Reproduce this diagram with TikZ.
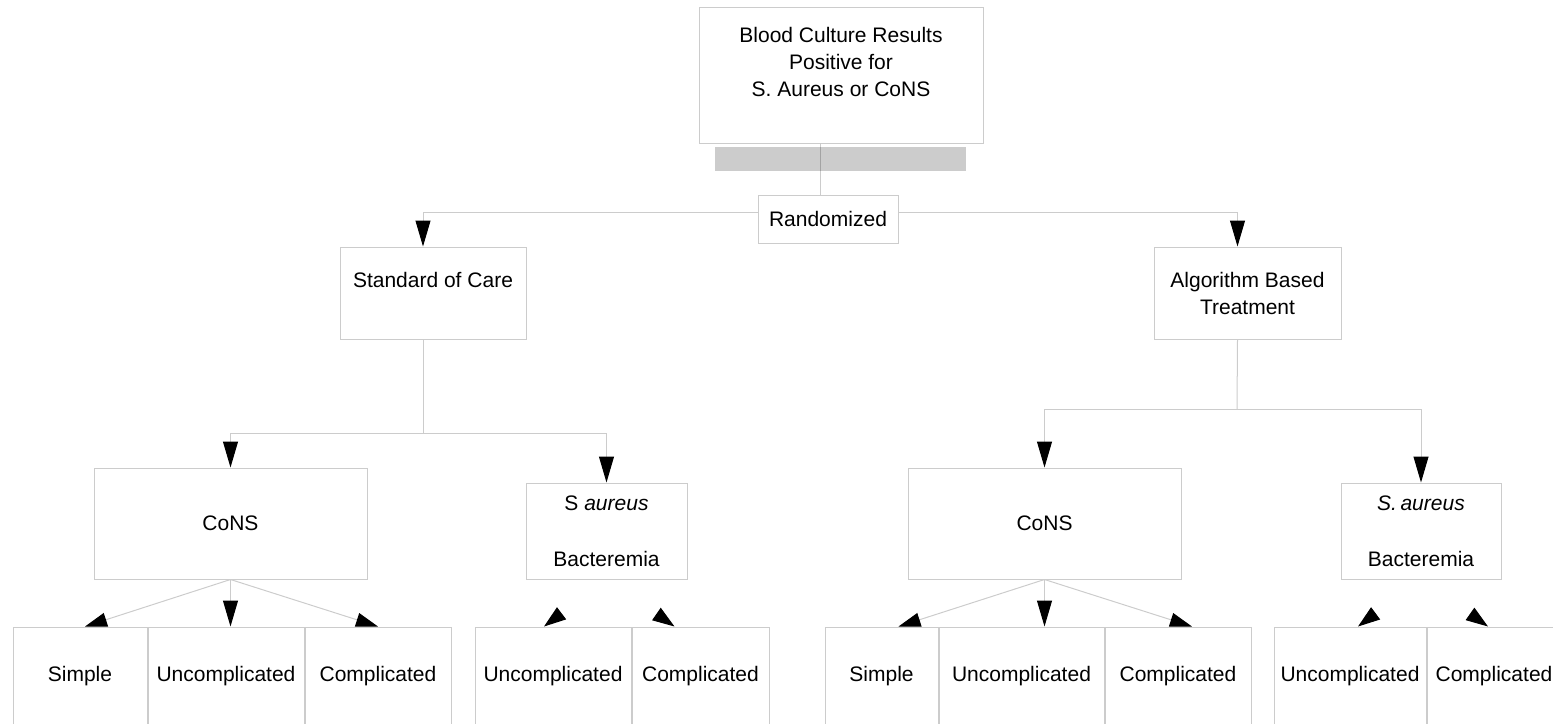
\documentclass[tikz,border=0pt]{standalone}
\usepackage{fontspec}
\setmainfont{Liberation Sans}
\usetikzlibrary{arrows.meta,positioning}

\begin{document}
\begin{tikzpicture}[x=0.5pt, y=-0.5pt, node distance=0pt,
  font=\fontsize{10.5}{13.5}\selectfont,
  box/.style={rectangle, draw=black!20, line width=0.5pt, inner sep=0pt, align=center},
  leaf/.style={rectangle, draw=black, draw opacity=0.2, line width=0.5pt, inner sep=0pt, minimum height=49.5pt},
  link/.style={draw=black!20, line width=0.5pt},
  arrow/.style={link, -{Triangle[color=black, fill=black, length=13pt, width=7.5pt]}},
  slant/.style={link, -{Triangle[color=black, fill=black, length=11pt, width=7pt]}},
  ghost/.style={draw=white, line width=0.5pt, shorten <=1.5pt, -{Triangle[color=black, fill=black, length=11pt, width=7.5pt]}}]

  \useasboundingbox (0,0) rectangle (1553,723);

  % trunk
  \node[box, minimum width=142pt, minimum height=68pt] (culture) at (841,75) {Blood Culture Results\\Positive for\\S. Aureus or CoNS\\~};
  \node[rectangle, fill=black!20, minimum width=125.5pt, minimum height=12pt, inner sep=0pt] (bar) at (840.5,159) {};
  \node[box, minimum width=70pt, minimum height=24pt] (rand) at (828,219) {Randomized};
  \coordinate (split) at (820,212);
  \node[box, minimum width=93pt, minimum height=46pt] (soc) at (433,293) {Standard of Care\\~};
  \node[box, minimum width=93.5pt, minimum height=46pt] (alg) at (1247.5,293) {Algorithm Based\\Treatment};

  % standard of care branch
  \coordinate (socfork) at (423,433);
  \node[box, minimum width=136.5pt, minimum height=55.5pt] (consL) at (230.5,523.5) {CoNS};
  \node[box, minimum width=80.5pt, minimum height=48pt] (saL) at (606.5,531) {S \textit{aureus}\\[14.5pt]Bacteremia};
  \node[leaf, minimum width=67pt] (simL) at (80,676.5) {Simple};
  \node[leaf, minimum width=78pt, right=of simL] (uncL) {Uncomplicated};
  \node[leaf, minimum width=73pt, right=of uncL] (comL) {Complicated};
  \node[leaf, minimum width=78pt] (uncSL) at (553,676.5) {Uncomplicated};
  \node[leaf, minimum width=68.5pt, right=of uncSL] (comSL) {Complicated};

  % algorithm branch
  \coordinate (algfork) at (1237,409);
  \node[box, minimum width=136.5pt, minimum height=55.5pt] (consR) at (1044.5,523.5) {CoNS};
  \node[box, minimum width=80pt, minimum height=48pt] (saR) at (1421,531) {\textit{S.\,aureus}\\[14.5pt]Bacteremia};
  \node[leaf, minimum width=56.5pt] (simR) at (881.5,676.5) {Simple};
  \node[leaf, minimum width=82.5pt, right=of simR] (uncR) {Uncomplicated};
  \node[leaf, minimum width=73pt, right=of uncR] (comR) {Complicated};
  \node[leaf, minimum width=76pt] (uncSR) at (1350,676.5) {Uncomplicated};
  \node[leaf, minimum width=67pt, right=of uncSR] (comSR) {Complicated};

  \draw[draw=black, draw opacity=0.2, line width=0.5pt] (culture.south -| split) -- (rand.north -| split);
  \draw[arrow] (rand.west |- split) -| ([xshift=-5pt]soc.north);
  \draw[arrow] (rand.east |- split) -| ([xshift=-5pt]alg.north);

  \draw[link] ([xshift=-5pt]soc.south) -- (socfork);
  \draw[arrow] (socfork) -| (consL);
  \draw[arrow] (socfork) -| (saL);
  \draw[slant] (consL.south) -- ([xshift=2.5pt]simL.north);
  \draw[arrow] (consL.south) -- (consL.south |- uncL.north);
  \draw[slant] (consL.south) -- (comL.north);
  \draw[ghost] (saL.south) -- ([xshift=-4.5pt]uncSL.north);
  \draw[ghost] (saL.south) -- ([xshift=-13pt]comSL.north);

  \draw[link] ([xshift=-5pt]alg.south) -- (algfork);
  \draw[arrow] (algfork) -| (consR);
  \draw[arrow] (algfork) -| (saR);
  \draw[slant] (consR.south) -- ([xshift=8.5pt]simR.north);
  \draw[arrow] (consR.south) -- (consR.south |- uncR.north);
  \draw[slant] (consR.south) -- ([xshift=7pt]comR.north);
  \draw[ghost] (saR.south) -- ([xshift=4pt]uncSR.north);
  \draw[ghost] (saR.south) -- ([xshift=-3pt]comSR.north);
\end{tikzpicture}
\end{document}
